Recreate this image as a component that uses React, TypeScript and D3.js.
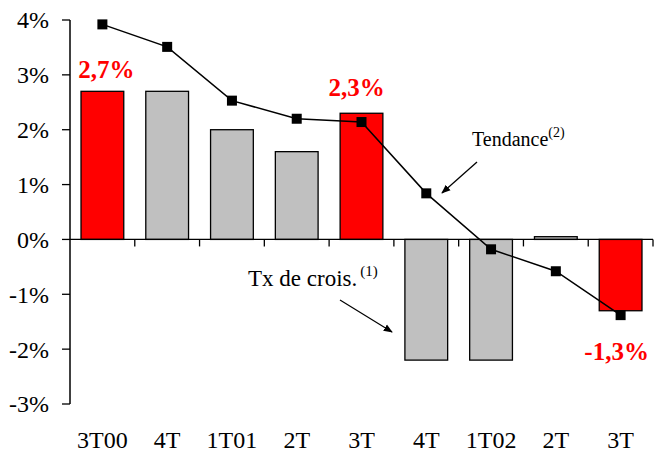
import React from "react"
import * as d3 from "d3"

const W = 655
const H = 454

const categories = ["3T00", "4T", "1T01", "2T", "3T", "4T", "1T02", "2T", "3T"]
const growth = [2.7, 2.7, 2.0, 1.6, 2.3, -2.2, -2.2, 0.05, -1.3]
const highlighted = [true, false, false, false, true, false, false, false, true]
const trend = [3.92, 3.51, 2.53, 2.2, 2.14, 0.84, -0.18, -0.58, -1.38]
const yTicks = [4, 3, 2, 1, 0, -1, -2, -3]
const callouts = [
  { index: 0, label: "2,7%", dx: 4, dy: -13 },
  { index: 4, label: "2,3%", dx: -5, dy: -17 },
  { index: 8, label: "-1,3%", dx: -4, dy: 49 },
]

const FONT = "'Liberation Serif', 'Times New Roman', Times, serif"

export default function App() {
  const margin = { top: 20, right: 2, bottom: 50, left: 70 }
  const x = d3
    .scaleBand<number>()
    .domain(d3.range(categories.length))
    .range([margin.left, W - margin.right])
    .paddingInner(0.34)
    .paddingOuter(0.17)
  const y = d3.scaleLinear().domain([-3, 4]).range([404, 20])
  const cx = (i: number) => (x(i) ?? 0) + x.bandwidth() / 2
  const step = x.step()
  const x0 = margin.left

  const line = d3
    .line<number>()
    .x((_, i) => cx(i))
    .y(d => y(d))

  return (
    <div style={{ position: "absolute", left: 0, top: 0 }}>
      <svg width={W} height={H} style={{ display: "block", background: "#fff", fontFamily: FONT }}>
        <defs>
          <marker id="arrow" viewBox="0 0 10 10" refX="9" refY="5" markerWidth="7" markerHeight="7" orient="auto">
            <path d="M0,1 L10,5 L0,9 z" fill="#000" />
          </marker>
        </defs>

        {/* bars */}
        {growth.map((v, i) => (
          <rect
            key={i}
            x={x(i)}
            y={y(Math.max(v, 0))}
            width={x.bandwidth()}
            height={Math.max(Math.abs(y(v) - y(0)), 1)}
            fill={highlighted[i] ? "#ff0000" : "#c0c0c0"}
            stroke="#000"
            strokeWidth={1.3}
          />
        ))}

        {/* zero axis */}
        <line x1={x0} x2={W - 2} y1={y(0)} y2={y(0)} stroke="#000" strokeWidth={1.3} />
        {d3.range(1, categories.length + 1).map(k => (
          <line
            key={k}
            x1={x0 + k * step}
            x2={x0 + k * step}
            y1={y(0)}
            y2={y(0) + 7}
            stroke="#000"
            strokeWidth={1.3}
          />
        ))}

        {/* y axis */}
        <line x1={x0} x2={x0} y1={y(4)} y2={y(-3)} stroke="#000" strokeWidth={1.5} />
        {yTicks.map(t => (
          <g key={t}>
            <line x1={x0 - 8} x2={x0} y1={y(t)} y2={y(t)} stroke="#000" strokeWidth={1.3} />
            <text
              x={x0 - 21}
              y={y(t)}
              dy="0.35em"
              textAnchor="end"
              fontFamily={FONT}
              fontSize={24}
              fill="#000"
            >
              {t}%
            </text>
          </g>
        ))}

        {/* trend line */}
        <path d={line(trend) ?? ""} fill="none" stroke="#000" strokeWidth={1.5} />
        {trend.map((v, i) => (
          <rect key={i} x={cx(i) - 5} y={y(v) - 5} width={10} height={10} fill="#000" />
        ))}

        {/* category labels */}
        {categories.map((c, i) => (
          <text
            key={i}
            x={cx(i)}
            y={448}
            textAnchor="middle"
            fontFamily={FONT}
            fontSize={24}
            fill="#000"
          >
            {c}
          </text>
        ))}

        {/* red callouts */}
        {callouts.map(c => (
          <text
            key={c.index}
            x={cx(c.index) + c.dx}
            y={y(growth[c.index]) + c.dy}
            textAnchor="middle"
            fontFamily={FONT}
            fontSize={25}
            fontWeight="bold"
            fill="#ff0000"
          >
            {c.label}
          </text>
        ))}

        {/* annotations */}
        <text x={472} y={146} fontFamily={FONT} fontSize={20} fill="#000">
          Tendance
          <tspan dy={-9} fontSize={14}>(2)</tspan>
        </text>
        <line x1={477} y1={162} x2={442} y2={193} stroke="#000" strokeWidth={1.3} markerEnd="url(#arrow)" />

        <text x={248} y={286} fontFamily={FONT} fontSize={23} fill="#000">
          Tx de crois.
          <tspan dx={3} dy={-10} fontSize={15}>(1)</tspan>
        </text>
        <line x1={340} y1={300} x2={392} y2={332} stroke="#000" strokeWidth={1.3} markerEnd="url(#arrow)" />
      </svg>
    </div>
  )
}
